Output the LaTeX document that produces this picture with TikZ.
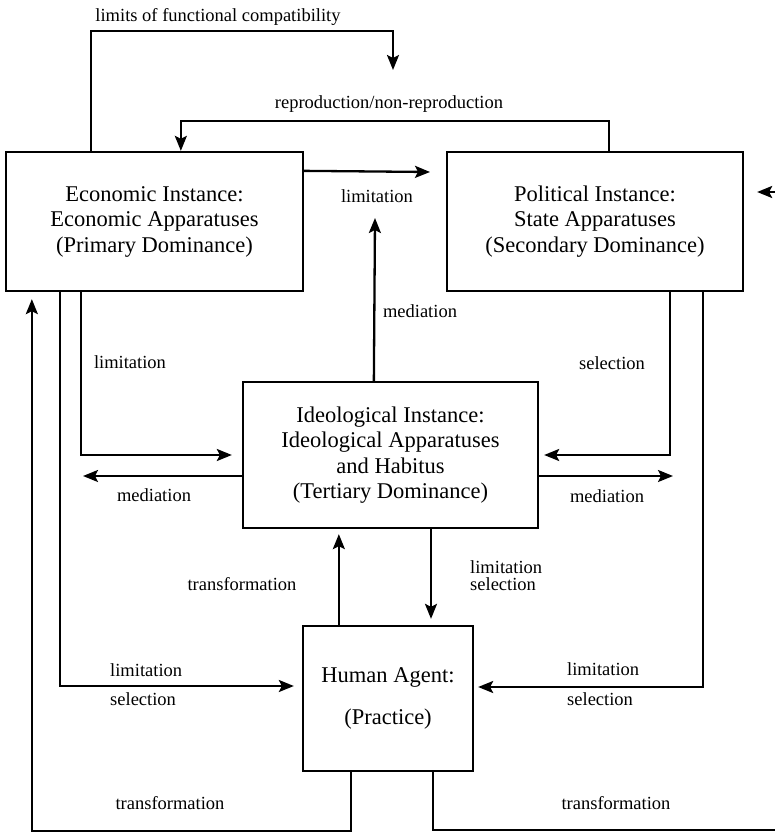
\documentclass[tikz,border=0pt]{standalone}
\usepackage{fontspec}
\setmainfont{Liberation Serif}
\usetikzlibrary{arrows.meta}
\begin{document}
\begin{tikzpicture}[x=1pt,y=-1pt,
  box/.style={draw,line width=2.3pt,inner sep=0pt,align=center,
    font=\fontsize{22.5}{25.5}\selectfont},
  lbl/.style={inner sep=0pt,font=\fontsize{18.5}{18}\selectfont},
  conn/.style={line width=2.3pt,-{Stealth[length=15pt,width=12pt,inset=3pt]}},
  line/.style={line width=2.3pt}]
\useasboundingbox (0,0) rectangle (775,832);
\clip (0,0) rectangle (775,832);
% boxes
\node[box,minimum width=297pt,minimum height=139pt] (econ) at (154.5,221.5)
  {Economic Instance:\\Economic Apparatuses\\(Primary Dominance)};
\node[box,minimum width=296pt,minimum height=139pt] (pol) at (595,221.5)
  {Political Instance:\\State Apparatuses\\(Secondary Dominance)};
\node[box,minimum width=295pt,minimum height=146pt] (ideo) at (390.5,455)
  {Ideological Instance:\\Ideological Apparatuses\\and Habitus\\(Tertiary Dominance)};
\node[box,minimum width=170pt,minimum height=145pt] (human) at (388,698.5)
  {Human Agent:\\[16pt](Practice)};
% free ends
\coordinate (lfc) at (393,70);
\coordinate (lim1) at (430,172);
\coordinate (med1) at (375,218);
\coordinate (med2) at (83,476);
\coordinate (med3) at (673,476);
% connectors
\draw[conn] ([xshift=86pt]econ.north west) -- ++(0,-120) -| (lfc);
\draw[conn] ([xshift=163pt]pol.north west) -- ++(0,-30) -| ([xshift=176pt]econ.north west);
\draw[conn] ([yshift=-20pt]econ.north east) -- (lim1);
\draw[conn] ([xshift=132pt]ideo.north west) -- (med1);
\draw[conn] ([xshift=76pt]econ.south west) |- ([xshift=-10pt]ideo.west);
\draw[conn] ([yshift=-21pt]ideo.west) -- (med2);
\draw[conn] ([xshift=-74pt]pol.south east) |- ([xshift=5pt]ideo.east);
\draw[conn] ([yshift=-21pt]ideo.east) -- (med3);
\draw[conn,shorten >=6pt] ([xshift=40.5pt]ideo.south) -- ([xshift=40.5pt]ideo.south |- human.north);
\draw[conn,shorten >=5pt] ([xshift=37pt]human.north west) -- ([xshift=37pt]human.north west |- ideo.south);
\draw[conn] ([xshift=55pt]econ.south west) |- ([xshift=-8pt,yshift=12.5pt]human.west);
\draw[conn] ([xshift=-41pt]pol.south east) |- ([xshift=4pt,yshift=11.5pt]human.east);
\draw[conn] ([xshift=49pt]human.south west) -- ++(0,59) -| ([xshift=27pt,yshift=-7pt]econ.south west);
\draw[conn] ([xshift=-41pt]human.south east) -- ++(0,58) -| (800,192) -- ([xshift=13pt,yshift=29.5pt]pol.east);
% labels
\node[lbl] (t1) at (218,17) {limits of functional compatibility};
\node[lbl] (t2) at (389,104) {reproduction/non-reproduction};
\node[lbl] (t3) at (377,196) {limitation};
\node[lbl] (t4) at (420,311) {mediation};
\node[lbl] (t5) at (130,362) {limitation};
\node[lbl] (t6) at (612,363) {selection};
\node[lbl] (t7) at (154,495) {mediation};
\node[lbl] (t8) at (607,496) {mediation};
\node[lbl] (t9) at (242,584) {transformation};
\node[lbl,anchor=west] (t10) at (470,567) {limitation};
\node[lbl,anchor=west] (t11) at (470,584) {selection};
\node[lbl,anchor=west] (t12) at (110,670) {limitation};
\node[lbl,anchor=west] (t13) at (110,699) {selection};
\node[lbl,anchor=west] (t14) at (567,669) {limitation};
\node[lbl,anchor=west] (t15) at (567,699) {selection};
\node[lbl] (t16) at (170,803) {transformation};
\node[lbl] (t17) at (616,803) {transformation};
\end{tikzpicture}
\end{document}
